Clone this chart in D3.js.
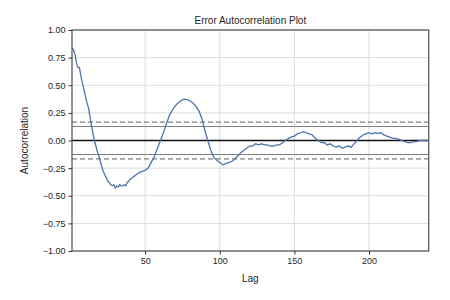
<!DOCTYPE html>
<html>
<head>
<meta charset="utf-8">
<script src="https://cdn.jsdelivr.net/npm/d3@7"></script>
<style>
  body { margin: 0; background: #fff; }
  text { font-family: "Liberation Sans", Arial, sans-serif; fill: #262626; }
</style>
</head>
<body>
<div id="chart"></div>
<script>
// lag values
var lags = [1,2,3,4,5,6,7,8,9,10,11,12,13,14,15,16,17,18,19,20,21,22,23,24,25,26,27,28,29,30,
  31,32,33,34,35,36,37,38,39,40,41,42,43,44,46,48,50,52,54,56,58,60,62,64,66,68,70,72,74,76,78,80,
  82,84,86,88,90,92,94,96,98,100,102,104,106,108,110,112,114,116,118,120,122,124,126,128,130,132,
  134,136,138,140,142,144,146,148,150,152,154,156,158,160,162,164,166,168,170,172,174,176,178,180,
  182,184,186,188,190,192,194,196,198,200,202,204,206,208,210,212,214,216,218,220,222,224,226,228,
  230,232,234,236,238,240];
var acf = [0.84,0.82,0.78,0.70,0.66,0.66,0.58,0.52,0.46,0.40,0.34,0.30,0.22,0.14,0.07,0.00,-0.05,-0.10,-0.14,-0.19,
  -0.24,-0.28,-0.31,-0.34,-0.37,-0.38,-0.40,-0.41,-0.40,-0.43,-0.41,-0.42,-0.40,-0.41,-0.41,-0.40,-0.41,-0.38,-0.37,-0.35,
  -0.34,-0.33,-0.32,-0.31,-0.29,-0.28,-0.27,-0.25,-0.20,-0.15,-0.08,-0.01,0.06,0.14,0.22,0.27,0.31,0.34,0.36,0.375,0.37,0.36,
  0.34,0.31,0.27,0.20,0.09,0.00,-0.09,-0.15,-0.18,-0.20,-0.22,-0.21,-0.20,-0.19,-0.17,-0.14,-0.11,-0.09,-0.07,-0.05,-0.05,-0.03,-0.04,-0.03,-0.04,-0.04,
  -0.05,-0.05,-0.04,-0.04,-0.02,0.00,0.02,0.03,0.04,0.06,0.07,0.08,0.07,0.06,0.05,0.02,0.00,-0.02,-0.02,-0.04,-0.03,-0.05,-0.06,-0.05,
  -0.07,-0.06,-0.05,-0.06,-0.03,0.00,0.03,0.05,0.06,0.07,0.06,0.07,0.065,0.07,0.05,0.04,0.03,0.02,0.02,0.01,0.00,-0.01,-0.02,-0.02,
  -0.01,-0.01,0.00,0.00,0.00,0.00];
var xTicks = [50, 100, 150, 200];
var yTicks = [-1, -0.75, -0.5, -0.25, 0, 0.25, 0.5, 0.75, 1];
var nObs = 240;
var z95 = 1.959963984540054, z99 = 2.5758293035489;

var width = 450, height = 300;
var margin = {left: 72, right: 21.3, top: 30, bottom: 49};

var svg = d3.select('#chart').append('svg')
  .attr('width', width).attr('height', height);

var x = d3.scaleLinear().domain([1, nObs]).range([margin.left, width - margin.right]);
var y = d3.scaleLinear().domain([-1, 1]).range([height - margin.bottom, margin.top]);

// grid
svg.append('g').selectAll('line').data(xTicks).enter().append('line')
  .attr('x1', d => x(d)).attr('x2', d => x(d))
  .attr('y1', y(-1)).attr('y2', y(1))
  .attr('stroke', '#dcdcdc').attr('stroke-width', 1);
svg.append('g').selectAll('line').data(yTicks).enter().append('line')
  .attr('x1', x(1)).attr('x2', x(nObs))
  .attr('y1', d => y(d)).attr('y2', d => y(d))
  .attr('stroke', '#dcdcdc').attr('stroke-width', 1);

// confidence bands
var bands = [
  {v: z99 / Math.sqrt(nObs), dash: '5,3'},
  {v: z95 / Math.sqrt(nObs), dash: null},
  {v: -z95 / Math.sqrt(nObs), dash: null},
  {v: -z99 / Math.sqrt(nObs), dash: '5,3'}
];
svg.append('g').selectAll('line').data(bands).enter().append('line')
  .attr('x1', x(1)).attr('x2', x(nObs))
  .attr('y1', d => y(d.v)).attr('y2', d => y(d.v))
  .attr('stroke', '#808080').attr('stroke-width', 1.2)
  .attr('stroke-dasharray', d => d.dash);

svg.append('line')
  .attr('x1', x(1)).attr('x2', x(nObs))
  .attr('y1', y(0)).attr('y2', y(0))
  .attr('stroke', '#111').attr('stroke-width', 1.5);

// acf line
var pts = lags.map((l, i) => [l, acf[i]]);
svg.append('path').datum(pts)
  .attr('fill', 'none')
  .attr('stroke', '#4c72b0')
  .attr('stroke-width', 1.3)
  .attr('d', d3.line().x(d => x(d[0])).y(d => y(d[1])));

// frame
svg.append('rect')
  .attr('x', x(1)).attr('y', y(1))
  .attr('width', x(nObs) - x(1)).attr('height', y(-1) - y(1))
  .attr('fill', 'none').attr('stroke', '#555').attr('stroke-width', 1.25);

// axes
var xAxis = svg.append('g').attr('transform', 'translate(0,' + y(-1) + ')')
  .call(d3.axisBottom(x).tickValues(xTicks).tickSize(3.5).tickPadding(3));
var yAxis = svg.append('g').attr('transform', 'translate(' + x(1) + ',0)')
  .call(d3.axisLeft(y).tickValues(yTicks).tickSize(3.5).tickPadding(3)
    .tickFormat(d => d3.format('.2f')(d).replace('-', '\u2212')));
[xAxis, yAxis].forEach(function(a) {
  a.select('.domain').remove();
  a.selectAll('line').attr('stroke', '#333').attr('stroke-width', 1);
  a.selectAll('text').style('font-size', '9px').attr('fill', '#333')
    .style('font-family', '"Liberation Sans", Arial, sans-serif');
});

svg.append('text')
  .attr('x', (x(1) + x(nObs)) / 2).attr('y', 23.5)
  .attr('text-anchor', 'middle').style('font-size', '10px')
  .text('Error Autocorrelation Plot');

svg.append('text')
  .attr('x', (x(1) + x(nObs)) / 2).attr('y', 282)
  .attr('text-anchor', 'middle').style('font-size', '10px')
  .text('Lag');

svg.append('text')
  .attr('transform', 'translate(28,' + y(0) + ') rotate(-90)')
  .attr('text-anchor', 'middle').style('font-size', '10px')
  .text('Autocorrelation');
</script>
</body>
</html>
